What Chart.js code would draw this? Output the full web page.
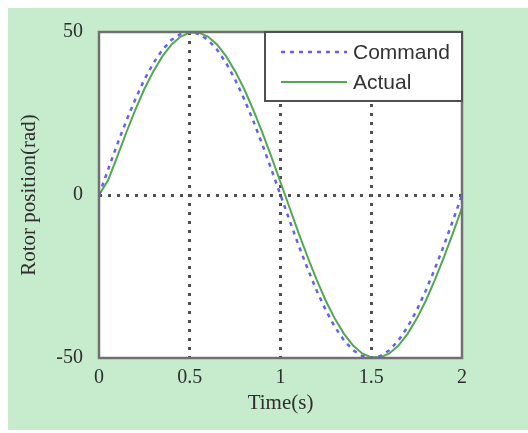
<!DOCTYPE html>
<html>
<head>
<meta charset="utf-8">
<script src="https://cdn.jsdelivr.net/npm/chart.js@4.4.1/dist/chart.umd.min.js"></script>
<style>
  html, body { margin: 0; padding: 0; background: #fff; }
  #wrap { width: 528px; height: 433px; position: relative; }
</style>
</head>
<body>
<div id="wrap"><canvas id="myChart"></canvas></div>
<script>
// time samples (s)
var times = [0, 0.05, 0.1, 0.15, 0.2, 0.25, 0.3, 0.35, 0.4, 0.45, 0.5,
             0.55, 0.6, 0.65, 0.7, 0.75, 0.8, 0.85, 0.9, 0.95, 1,
             1.05, 1.1, 1.15, 1.2, 1.25, 1.3, 1.35, 1.4, 1.45, 1.5,
             1.55, 1.6, 1.65, 1.7, 1.75, 1.8, 1.85, 1.9, 1.95, 2];

// rotor position (rad)
var command = [0, 7.8, 15.5, 22.7, 29.4, 35.4, 40.5, 44.6, 47.6, 49.4, 50,
               49.4, 47.6, 44.6, 40.5, 35.4, 29.4, 22.7, 15.5, 7.8, 0,
               -7.8, -15.5, -22.7, -29.4, -35.4, -40.5, -44.6, -47.6, -49.4, -50,
               -49.4, -47.6, -44.6, -40.5, -35.4, -29.4, -22.7, -15.5, -7.8, 0];
var actual = [0, 4.5, 11.7, 19.1, 26.1, 32.5, 38.0, 42.6, 46.2, 48.6, 49.8,
              49.8, 48.6, 46.2, 42.6, 38.0, 32.5, 26.1, 19.1, 11.7, 3.9,
              -3.9, -11.7, -19.1, -26.1, -32.5, -38.0, -42.6, -46.2, -48.6, -49.8,
              -49.8, -48.6, -46.2, -42.6, -38.0, -32.5, -26.1, -19.1, -11.7, -3.9];

var seriesNames = ['Command', 'Actual'];
var xTicks = [0, 0.5, 1, 1.5, 2];
var yTicks = [-50, 0, 50];

function toPoints(ys) {
    return times.map(function (t, i) { return { x: t, y: ys[i] }; });
}

var serif = "'Liberation Serif', 'DejaVu Serif', serif";
var sans = "'Liberation Sans', Arial, sans-serif";
var gridDots = [3, 6];

// green page, white axes box
var backdrop = {
    id: 'backdrop',
    beforeDraw: function (chart) {
        var c = chart.ctx, a = chart.chartArea;
        c.save();
        c.fillStyle = '#ffffff';
        c.fillRect(0, 0, chart.width, chart.height);
        c.fillStyle = '#c7ebcd';
        c.fillRect(8, 8, chart.width - 8, chart.height - 11);
        c.fillStyle = '#ffffff';
        c.fillRect(a.left, a.top, a.right - a.left, a.bottom - a.top);
        c.restore();
    }
};

// axes frame + legend box in the upper right corner
var frameAndLegend = {
    id: 'frameAndLegend',
    afterDatasetsDraw: function (chart) {
        var c = chart.ctx, a = chart.chartArea;
        c.save();
        c.strokeStyle = '#707070';
        c.lineWidth = 2.5;
        c.setLineDash([]);
        c.strokeRect(a.left, a.top, a.right - a.left, a.bottom - a.top);

        var bx = 265, by = a.top, bw = a.right - bx, bh = 69;
        c.fillStyle = '#ffffff';
        c.fillRect(bx, by, bw, bh);
        c.strokeStyle = '#505050';
        c.lineWidth = 2;
        c.strokeRect(bx, by, bw, bh);

        var rows = [52, 82];
        chart.data.datasets.forEach(function (ds, i) {
            var y = rows[i];
            c.strokeStyle = ds.borderColor;
            c.lineWidth = ds.borderWidth;
            c.setLineDash(ds.borderDash || []);
            c.beginPath();
            c.moveTo(281, y);
            c.lineTo(347, y);
            c.stroke();
            c.setLineDash([]);
            c.fillStyle = '#333333';
            c.font = '21px ' + sans;
            c.textBaseline = 'middle';
            c.textAlign = 'left';
            c.fillText(ds.label, 353, y + 1);
        });
        c.restore();
    }
};

var ctx = document.getElementById('myChart').getContext('2d');

var myChart = new Chart(ctx, {
    type: 'line',
    data: {
        datasets: [
            {
                label: seriesNames[0],
                data: toPoints(command),
                borderColor: '#6262f2',
                borderWidth: 2.5,
                borderDash: [4, 5],
                pointRadius: 0,
                fill: false
            },
            {
                label: seriesNames[1],
                data: toPoints(actual),
                borderColor: '#52a852',
                borderWidth: 2,
                pointRadius: 0,
                fill: false
            }
        ]
    },
    options: {
        responsive: true,
        maintainAspectRatio: false,
        animation: false,
        layout: { padding: { left: 0, right: 66, top: 32, bottom: 0 } },
        plugins: {
            legend: { display: false },
            tooltip: { enabled: false }
        },
        scales: {
            x: {
                type: 'linear',
                min: 0,
                max: 2,
                afterBuildTicks: function (s) {
                    s.ticks = xTicks.map(function (v) { return { value: v }; });
                },
                afterFit: function (s) { s.height = 75; },
                border: { display: false, dash: gridDots },
                grid: {
                    drawTicks: false,
                    lineWidth: 3,
                    color: function (c) {
                        return (c.tick && c.tick.value > 0 && c.tick.value < 2) ? '#505050' : 'rgba(0,0,0,0)';
                    }
                },
                ticks: {
                    padding: 8,
                    color: '#2e2e2e',
                    font: { family: serif, size: 20 },
                    maxRotation: 0,
                    callback: function (v) { return String(v); }
                },
                title: {
                    display: true,
                    text: 'Time(s)',
                    color: '#2e2e2e',
                    font: { family: serif, size: 21 },
                    padding: { top: 0, bottom: 17 }
                }
            },
            y: {
                min: -50,
                max: 50,
                afterBuildTicks: function (s) {
                    s.ticks = yTicks.map(function (v) { return { value: v }; });
                },
                afterFit: function (s) { s.width = 99; },
                border: { display: false, dash: gridDots },
                grid: {
                    drawTicks: false,
                    lineWidth: 3,
                    color: function (c) {
                        return (c.tick && c.tick.value === 0) ? '#505050' : 'rgba(0,0,0,0)';
                    }
                },
                ticks: {
                    padding: 16,
                    color: '#2e2e2e',
                    font: { family: serif, size: 20 },
                    callback: function (v) { return String(v); }
                },
                title: {
                    display: true,
                    text: 'Rotor position(rad)',
                    color: '#2e2e2e',
                    font: { family: serif, size: 21 },
                    padding: { top: 17, bottom: 0 }
                }
            }
        },
        elements: { line: { tension: 0 } }
    },
    plugins: [backdrop, frameAndLegend]
});
</script>
</body>
</html>
